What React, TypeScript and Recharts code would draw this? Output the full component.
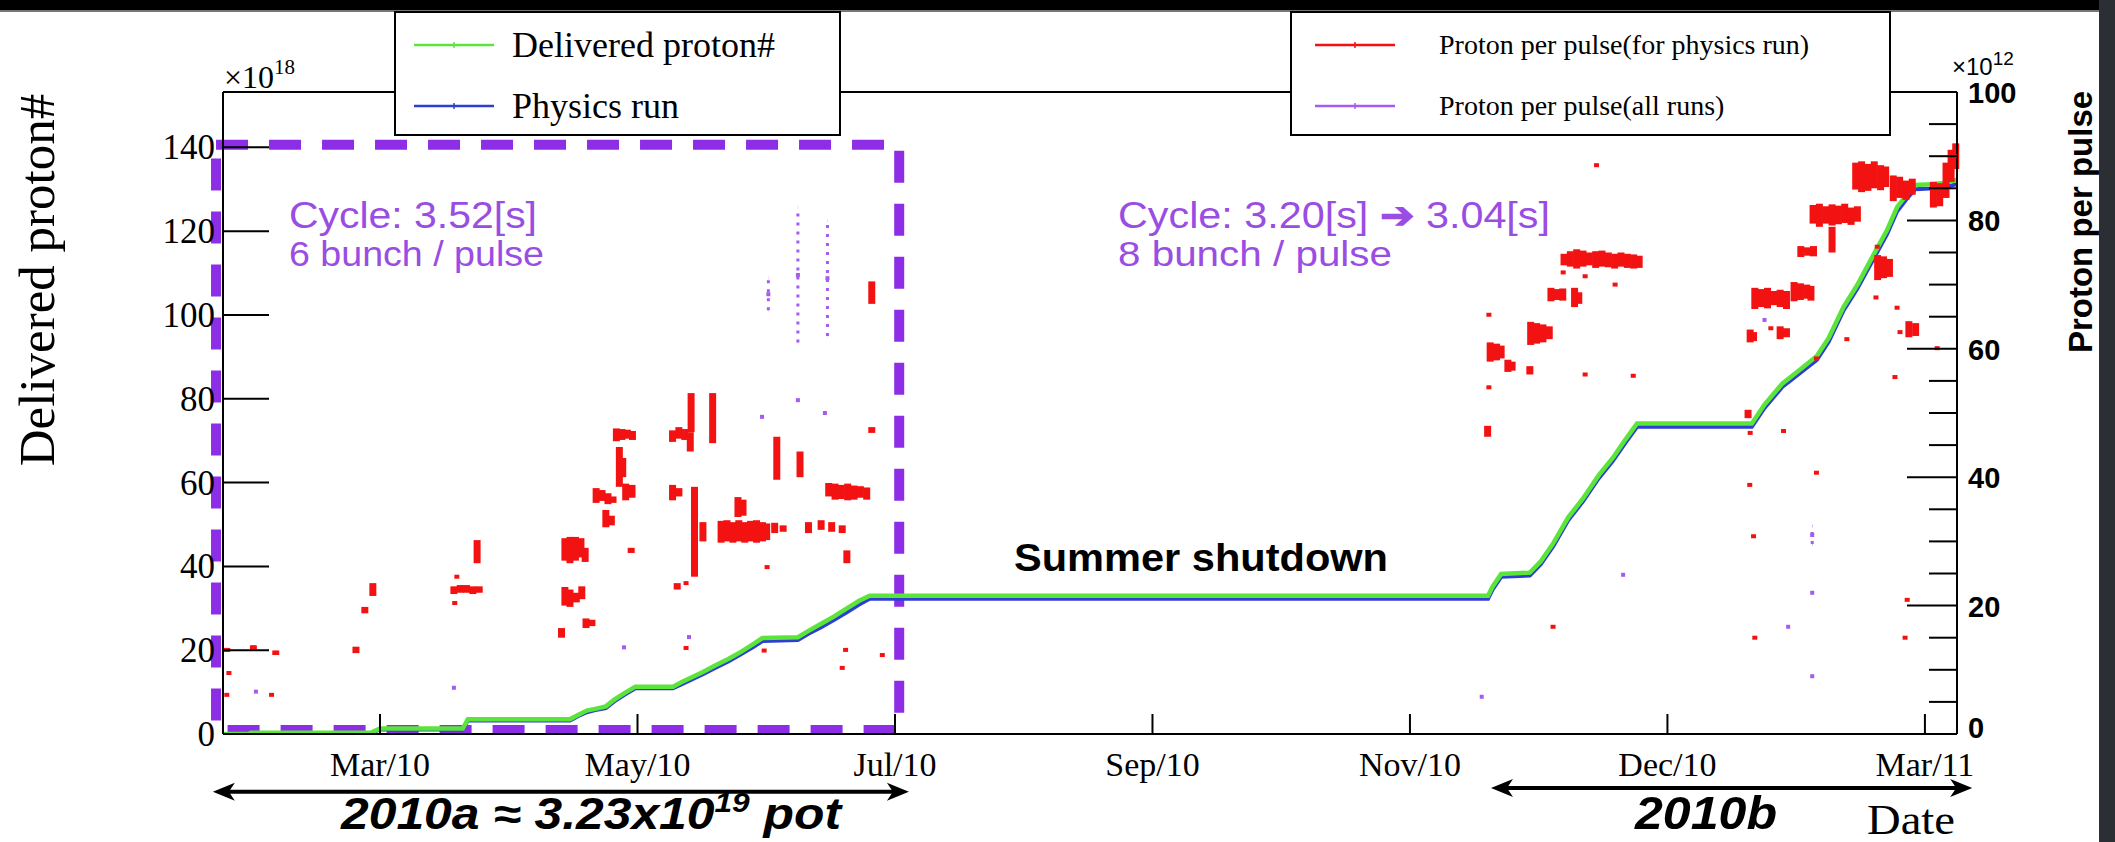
import React from 'react';
import {
  ComposedChart,
  Line,
  Scatter,
  XAxis,
  YAxis,
  ErrorBar,
  ReferenceArea,
  ReferenceLine,
} from 'recharts';

// Canvas size
const W = 2115;
const H = 842;

// x values are day numbers counted from 1 Jan 2010
const dayDomain: [number, number] = [21.8, 432.6];
const dateTicks = [59, 120, 181, 242, 303, 364, 425];
const dateLabels = ['Mar/10', 'May/10', 'Jul/10', 'Sep/10', 'Nov/10', 'Dec/10', 'Mar/11'];

// Left axis: delivered protons (x10^18)
const potTicks = [0, 20, 40, 60, 80, 100, 120, 140];
const potDomain: [number, number] = [0, 153.2];

// Right axis: protons per pulse (x10^12), labelled every 20, minor ticks every 5
const pulseTicks = [0, 5, 10, 15, 20, 25, 30, 35, 40, 45, 50, 55, 60, 65, 70, 75, 80, 85, 90, 95, 100];
const pulseDomain: [number, number] = [0, 100];

// Cumulative delivered protons [day, x10^18]
const deliveredPot: [number, number][] = [
  [21.8, 0], [27.8, 0], [28.4, 0.3], [56.8, 0.3], [59, 1.3], [78.6, 1.3], [79.8, 3.5],
  [104, 3.5], [106, 4.6], [108, 5.6], [110, 6], [112.5, 6.6], [114.5, 8.2], [117, 9.8],
  [119.5, 11.3], [128.4, 11.3], [130.5, 12.4], [133, 13.6], [135.5, 14.8], [138.5, 16.4],
  [141.5, 17.9], [144.5, 19.6], [147.5, 21.5], [149.6, 22.9], [158, 23.1], [160.5, 24.6],
  [163.5, 26.3], [166.5, 28], [169.5, 29.9], [172.5, 31.8], [175, 33.0], [321.5, 33.0],
  [322.6, 35.2], [324.6, 38.2], [331.4, 38.5], [334, 41.2], [337, 45.6], [340.5, 51.7],
  [344, 56.2], [347.7, 61.7], [351, 65.8], [354, 70.2], [356.8, 74.1], [384, 74.1],
  [387, 78.6], [391.2, 83.6], [395, 86.6], [399.4, 90.2], [402.2, 94.5], [405.7, 101.9],
  [409, 107.2], [413, 114.7], [416, 120.2], [418.4, 125.7], [420.6, 128.6], [422.7, 131],
  [426.2, 131.2], [429.5, 131.5], [432.6, 132.2],
];

// Cumulative protons for physics runs [day, x10^18]
const physicsPot: [number, number][] = [
  [21.8, 0], [27.8, 0], [28.4, 0.2], [56.8, 0.2], [59, 1.1], [78.6, 1.1], [79.8, 3.2],
  [104, 3.2], [106, 4.3], [108, 5.2], [110, 5.7], [112.5, 6.2], [114.5, 7.8], [117, 9.4],
  [119.5, 10.9], [128.4, 10.9], [130.5, 11.9], [133, 13.1], [135.5, 14.3], [138.5, 15.8],
  [141.5, 17.3], [144.5, 19], [147.5, 20.8], [149.6, 22.2], [158, 22.4], [160.5, 23.9],
  [163.5, 25.5], [166.5, 27.2], [169.5, 29], [172.5, 30.9], [175, 32.3], [321.5, 32.3],
  [322.6, 34.5], [324.6, 37.5], [331.4, 37.8], [334, 40.5], [337, 44.9], [340.5, 51.0],
  [344, 55.5], [347.7, 61.0], [351, 65.1], [354, 69.4], [356.8, 73.3], [384, 73.3],
  [387, 77.8], [391.2, 82.8], [395, 85.8], [399.4, 89.3], [402.2, 93.6], [405.7, 101],
  [409, 106.3], [413, 113.7], [416, 119.2], [418.4, 124.7], [420.6, 127.6], [422.7, 130],
  [426.2, 130.2], [429.5, 130.5], [432.6, 131.2],
];

// Protons per pulse, physics runs: [day, low, high] (x10^12)
const physicsPulses: [number, number, number][] = [
  [22.7, 12.8, 13.4], [29, 13.2, 13.8], [34.3, 12.3, 13.0], [23.2, 9.5, 9.5], [22.7, 6.1, 6.1], [33.3, 6.1, 6.1],
  [53.3, 12.6, 13.6], [55.4, 18.8, 19.8], [57.3, 21.5, 23.5],
  [76.5, 21.8, 23], [78, 22, 23.2], [79.5, 22, 23.2], [81, 21.8, 23], [82.5, 22, 23],
  [82, 26.6, 30.2], [77.2, 24.5, 24.5], [76.7, 20.4, 20.4],
  [102.8, 27, 30.5], [104, 26.6, 30.7], [105.3, 27, 30.7], [106.6, 27.5, 30.5], [107.6, 26.8, 29],
  [102.8, 20, 22.9], [104, 19.8, 22.5], [105.5, 20.5, 22], [106.8, 21, 23],
  [102, 15, 16.5], [107.8, 16.5, 18], [109.2, 16.8, 17.8],
  [110.2, 36, 38.3], [111.6, 36.3, 38], [113, 35.8, 37.5], [114.2, 36, 37],
  [112.5, 32.2, 34.9], [113.8, 32.5, 34],
  [115, 45.6, 47.6], [116.3, 45.8, 47.5], [117.6, 46, 47.4], [118.8, 45.8, 47.2],
  [115.7, 38.5, 44.7], [116.5, 40, 43], [117.2, 36.4, 39], [118.7, 36.8, 38.8], [118.5, 28.2, 29],
  [128.3, 45.5, 47.3], [129.8, 46, 47.8], [131.2, 45.8, 47.5], [132.5, 44, 47],
  [132.7, 47, 53.1], [137.8, 45.3, 53.1],
  [128.3, 36.4, 38.8], [129.8, 37, 38.3],
  [133.5, 24.5, 38.5], [135.5, 30, 33], [129.4, 22.5, 23.5],
  [139.8, 29.8, 33.2], [141.2, 30, 33.3], [142.6, 29.8, 33], [144, 30, 33.3], [145.4, 29.8, 33],
  [146.8, 30, 33.2], [148.2, 29.8, 33.3], [149.6, 30, 33], [150.6, 30.2, 32.8],
  [143.8, 33.8, 36.9], [145, 34, 36.5],
  [152.5, 31.3, 32.9], [154.5, 31.5, 32.5], [153, 39.6, 46.3], [158.5, 40, 44],
  [165.3, 37, 39.1], [166.8, 36.5, 39], [168.3, 36.6, 38.8], [169.8, 36.4, 39], [171.3, 36.5, 38.7],
  [172.8, 36.8, 38.6], [174.3, 36.5, 38.4],
  [160.5, 31.3, 33], [163.5, 31.8, 33.3], [166, 31.5, 33], [168.5, 31.3, 32.5],
  [175.5, 46.9, 47.8], [169.6, 26.6, 28.6],
  [168.5, 10.3, 10.3], [169.3, 13.1, 13.1], [178, 12.3, 12.3], [150, 13, 13], [131.5, 13.4, 13.4],
  [150.7, 26, 26], [131.5, 23.5, 23.5], [175.5, 67, 70.5],
  [321.4, 46.3, 48],
  [322, 58, 61], [323.5, 58.2, 60.8], [324.6, 58.5, 60.5],
  [326.2, 56.4, 58.3], [327.2, 56.6, 58], [331.4, 56, 57.3],
  [331.6, 60.6, 64.2], [333, 60.8, 64], [334.5, 61, 63.8], [336, 61.5, 63.5],
  [336.4, 67.4, 69.5], [337.8, 67.6, 69.3], [339.2, 67.5, 69.4], [342, 66.5, 69.5], [343, 67, 68.8],
  [339.5, 73, 74.8], [341, 72.8, 75.2], [342.5, 72.5, 75.5], [344, 72.8, 75.3], [345.5, 73, 75],
  [347, 72.6, 75.2], [348.5, 72.8, 75.3], [350, 72.7, 75], [351.5, 72.5, 74.8], [353, 72.8, 75],
  [354.5, 72.6, 74.8], [356, 72.5, 74.7], [357.3, 72.6, 74.5],
  [321.7, 65.3, 65.3], [321.7, 54, 54], [344.5, 56, 56], [355.9, 55.8, 55.8], [351.6, 70, 70],
  [344.5, 71.3, 71.3], [339.3, 71.9, 71.9], [347.2, 88.6, 88.6], [336.9, 16.7, 16.7],
  [384.7, 66.2, 69.5], [386.2, 66.5, 69.3], [387.7, 66.3, 69.5], [389.2, 66.8, 69], [390.7, 66.5, 69.2], [392.2, 66.2, 69],
  [394, 67.4, 70.4], [395.5, 67.6, 70.2], [397, 67.8, 70], [398, 67.5, 69.8],
  [383.6, 61, 63], [384.4, 61.2, 62.6], [390.7, 61.5, 63.5], [392.2, 61.8, 63.2],
  [395.6, 74.3, 76], [397.2, 74.5, 75.8], [398.6, 74.4, 76],
  [398.5, 79.5, 82.4], [400, 79, 82.6], [401.5, 79.5, 82.2], [403, 79.2, 82.5], [404.5, 79.4, 82.3],
  [406, 79.6, 82.6], [407.5, 79.3, 82], [409, 79.8, 82.2], [403, 75, 79],
  [408.6, 84.8, 89], [410, 84.4, 89.2], [411.5, 84.6, 88.8], [413, 85, 89.2], [414.5, 84.7, 88.6], [415.7, 85.2, 88.4],
  [413.8, 70.7, 74.6], [415.2, 71, 74.4], [416.6, 71.2, 74],
  [417.5, 83, 87], [419, 83.5, 86.8], [420.5, 83.2, 86.2], [422, 84, 86.5],
  [421.2, 61.8, 64.3], [422.8, 62, 64],
  [427, 82, 86], [428.5, 82.2, 85.8], [430, 83.5, 89], [431.2, 86, 91], [432.3, 88, 92],
  [383.1, 49.2, 50.5], [383.6, 46.9, 46.9], [391.5, 47.2, 47.2], [399.3, 40.7, 40.7], [383.5, 38.8, 38.8],
  [384.4, 30.8, 30.8], [384.7, 15, 15], [399.3, 58.5, 58.5], [406.5, 61.5, 61.5], [413.4, 68, 68],
  [418.4, 66.4, 66.4], [419.1, 62.6, 62.6], [417.9, 55.6, 55.6], [388.5, 63.2, 63.2], [420.8, 20.9, 20.9],
  [420.3, 15, 15], [413.7, 75.9, 75.9], [396.6, 75.4, 75.4], [427.9, 60.1, 60.1],
];

// Protons per pulse, all runs (only points not covered by physics runs): [day, low, high]
const allRunPulses: [number, number, number][] = [
  [29.6, 6.6, 6.6], [76.5, 7.2, 7.2], [116.8, 13.5, 13.5], [132.2, 15.1, 15.1], [149.5, 49.4, 49.4],
  [158, 52, 52], [164.4, 50, 50], [158, 61, 82], [165, 62, 80], [151, 66, 71],
  [320, 5.8, 5.8], [353.5, 24.8, 24.8], [398.3, 9, 9], [398.3, 22, 22], [398.3, 29.6, 32.4],
  [392.6, 16.7, 16.7], [387, 64.5, 64.5],
];

// Run periods drawn as arrows under the date axis: [start day, end day]
const run2010a: [number, number] = [19.4, 184.3];
const run2010b: [number, number] = [322.2, 436.2];

const SERIF = '"Liberation Serif", "Times New Roman", serif';
const SANS = '"Liberation Sans", Arial, Helvetica, sans-serif';

const GREEN = '#5be53a';
const BLUE = '#2c3fd0';
const RED = '#f31212';
const VIOLET = '#a45cf0';
const PURPLE_BOX = '#8d2ee6';
const PURPLE_TEXT = '#9a4de3';

const toLine = (rows: [number, number][]) => rows.map(([day, pot]) => ({ day, pot }));
const toPulses = (rows: [number, number, number][]) =>
  rows.map(([day, lo, hi]) => ({ day, ppp: (lo + hi) / 2, spread: (hi - lo) / 2 }));

const deliveredData = toLine(deliveredPot);
const physicsData = toLine(physicsPot);
const physicsPulseData = toPulses(physicsPulses);
const allRunPulseData = toPulses(allRunPulses);

const LeftTick = (props: any) => {
  const { x, y, payload } = props;
  return (
    <g>
      {payload.value > 0 && <line x1={x} y1={y} x2={x + 46} y2={y} stroke="#000" strokeWidth={2} />}
      <text x={x - 8} y={y + 12} textAnchor="end" fontFamily={SERIF} fontSize={35} fill="#000">
        {payload.value}
      </text>
    </g>
  );
};

const RightTick = (props: any) => {
  const { x, y, payload } = props;
  const v = payload.value as number;
  const major = v % 20 === 0;
  return (
    <g>
      {v > 0 && <line x1={x - (major ? 50 : 28)} y1={y} x2={x} y2={y} stroke="#000" strokeWidth={2} />}
      {major && (
        <text x={x + 11} y={v === 0 ? y + 4 : y + 11} fontFamily={SANS} fontWeight="bold" fontSize={29} fill="#000">
          {v}
        </text>
      )}
    </g>
  );
};

const DateTick = (props: any) => {
  const { x, y, payload } = props;
  const i = dateTicks.indexOf(payload.value);
  return (
    <g>
      <line x1={x} y1={y} x2={x} y2={y - 20} stroke="#000" strokeWidth={2} />
      <text x={x} y={y + 42} textAnchor="middle" fontFamily={SERIF} fontSize={34} fill="#000">
        {i >= 0 ? dateLabels[i] : ''}
      </text>
    </g>
  );
};

const PulseMark = (color: string, w: number, h: number) => (props: any) => {
  const { cx, cy } = props;
  if (cx == null || cy == null) return <g />;
  return <rect x={cx - w / 2} y={cy - h / 2} width={w} height={h} fill={color} />;
};

const DoubleArrow = (props: any) => {
  const { x1, y1, x2, y2 } = props;
  const head = 22;
  const half = 9;
  return (
    <g>
      <line x1={x1 + 8} y1={y1} x2={x2 - 8} y2={y2} stroke="#000" strokeWidth={4} />
      <polygon points={`${x1},${y1} ${x1 + head},${y1 - half} ${x1 + head - 6},${y1} ${x1 + head},${y1 + half}`} fill="#000" />
      <polygon points={`${x2},${y2} ${x2 - head},${y2 - half} ${x2 - head + 6},${y2} ${x2 - head},${y2 + half}`} fill="#000" />
    </g>
  );
};

const LegendLine = ({ x, y, color }: { x: number; y: number; color: string }) => (
  <g>
    <line x1={x} y1={y} x2={x + 80} y2={y} stroke={color} strokeWidth={2.5} />
    <line x1={x + 40} y1={y - 3} x2={x + 40} y2={y + 3} stroke={color} strokeWidth={1.5} />
  </g>
);

const AXIS_LINE = { stroke: '#000', strokeWidth: 2 };

export default function App() {
  return (
    <div style={{ position: 'fixed', left: 0, top: 0, width: W, height: H, background: '#fff', overflow: 'hidden' }}>
      <ComposedChart
        width={W}
        height={H}
        margin={{ top: 91, right: 157, bottom: 107, left: 222 }}
      >
        <XAxis
          dataKey="day"
          type="number"
          domain={dayDomain}
          ticks={dateTicks}
          interval={0}
          allowDataOverflow
          height={1}
          tickSize={0}
          tickMargin={0}
          tickLine={false}
          axisLine={AXIS_LINE}
          tick={<DateTick />}
        />
        <XAxis
          xAxisId="frame"
          orientation="top"
          type="number"
          domain={dayDomain}
          allowDataOverflow
          height={1}
          tick={false}
          tickLine={false}
          axisLine={AXIS_LINE}
        />
        <YAxis
          yAxisId="left"
          type="number"
          domain={potDomain}
          ticks={potTicks}
          interval={0}
          allowDataOverflow
          width={1}
          tickSize={0}
          tickMargin={0}
          tickLine={false}
          axisLine={AXIS_LINE}
          tick={<LeftTick />}
        />
        <YAxis
          yAxisId="right"
          orientation="right"
          type="number"
          domain={pulseDomain}
          ticks={pulseTicks}
          interval={0}
          allowDataOverflow
          width={1}
          tickSize={0}
          tickMargin={0}
          tickLine={false}
          axisLine={AXIS_LINE}
          tick={<RightTick />}
        />

        <Scatter
          yAxisId="right"
          name="Proton per pulse(all runs)"
          data={allRunPulseData}
          dataKey="ppp"
          isAnimationActive={false}
          shape={PulseMark(VIOLET, 4, 4)}
        >
          <ErrorBar dataKey="spread" direction="y" width={0} stroke={VIOLET} strokeWidth={3} strokeDasharray="3 6" isAnimationActive={false} />
        </Scatter>

        <Line
          yAxisId="left"
          name="Physics run"
          data={physicsData}
          dataKey="pot"
          type="linear"
          stroke={BLUE}
          strokeWidth={4}
          dot={false}
          isAnimationActive={false}
        />
        <Line
          yAxisId="left"
          name="Delivered proton#"
          data={deliveredData}
          dataKey="pot"
          type="linear"
          stroke={GREEN}
          strokeWidth={4.5}
          dot={false}
          isAnimationActive={false}
        />

        <Scatter
          yAxisId="right"
          name="Proton per pulse(for physics run)"
          data={physicsPulseData}
          dataKey="ppp"
          isAnimationActive={false}
          shape={PulseMark(RED, 5, 4)}
        >
          <ErrorBar dataKey="spread" direction="y" width={0} stroke={RED} strokeWidth={7} isAnimationActive={false} />
        </Scatter>

        <ReferenceLine
          yAxisId="right"
          segment={[{ x: run2010a[0], y: -9 }, { x: run2010a[1], y: -9 }]}
          ifOverflow="visible"
          shape={DoubleArrow}
        />
        <ReferenceLine
          yAxisId="right"
          segment={[{ x: run2010b[0], y: -8.4 }, { x: run2010b[1], y: -8.4 }]}
          ifOverflow="visible"
          shape={DoubleArrow}
        />
        <ReferenceArea
          yAxisId="left"
          x1={20.15}
          x2={182}
          y1={0.95}
          y2={140.6}
          ifOverflow="visible"
          fill="none"
          fillOpacity={0}
          stroke={PURPLE_BOX}
          strokeWidth={10}
          strokeDasharray="32 21"
        />
      </ComposedChart>

      <svg
        width={W}
        height={H}
        style={{ position: 'absolute', left: 0, top: 0, pointerEvents: 'none' }}
      >
        {/* slide edges */}
        <rect x={0} y={0} width={W} height={10} fill="#000" />
        <rect x={0} y={10} width={W} height={2} fill="#777" />
        <rect x={2099} y={0} width={16} height={H} fill="#2b2f34" />

        {/* axis multipliers */}
        <text x={224} y={88} fontFamily={SERIF} fontSize={32} fill="#000">
          ×10<tspan dy={-14} fontSize={21}>18</tspan>
        </text>
        <text x={1952} y={75} fontFamily={SANS} fontSize={24} fill="#000">
          ×10<tspan dy={-10} fontSize={19}>12</tspan>
        </text>

        {/* axis titles */}
        <text transform="translate(54,280) rotate(-90)" textAnchor="middle" fontFamily={SERIF} fontSize={51} fill="#000">
          Delivered proton#
        </text>
        <text transform="translate(2092,222) rotate(-90)" textAnchor="middle" fontFamily={SANS} fontWeight="bold" fontSize={33} fill="#000">
          Proton per pulse
        </text>
        <text x={1955} y={834} textAnchor="end" fontFamily={SERIF} fontSize={42} textLength={88} lengthAdjust="spacingAndGlyphs" fill="#000">
          Date
        </text>

        {/* legends */}
        <rect x={395} y={12} width={445} height={123} fill="#fff" stroke="#000" strokeWidth={2} />
        <LegendLine x={414} y={45} color={GREEN} />
        <text x={512} y={57} fontFamily={SERIF} fontSize={36} fill="#000">Delivered proton#</text>
        <LegendLine x={414} y={106} color={BLUE} />
        <text x={512} y={118} fontFamily={SERIF} fontSize={36} fill="#000">Physics run</text>

        <rect x={1291} y={12} width={599} height={123} fill="#fff" stroke="#000" strokeWidth={2} />
        <LegendLine x={1315} y={45} color={RED} />
        <text x={1439} y={54} fontFamily={SERIF} fontSize={28} fill="#000">Proton per pulse(for physics run)</text>
        <LegendLine x={1315} y={106} color={VIOLET} />
        <text x={1439} y={115} fontFamily={SERIF} fontSize={28} fill="#000">Proton per pulse(all runs)</text>

        {/* run annotations */}
        <text x={289} y={228} fontFamily={SANS} fontSize={37} textLength={248} lengthAdjust="spacingAndGlyphs" fill={PURPLE_TEXT}>Cycle: 3.52[s]</text>
        <text x={289} y={266} fontFamily={SANS} fontSize={35} textLength={255} lengthAdjust="spacingAndGlyphs" fill={PURPLE_TEXT}>6 bunch / pulse</text>
        <text x={1118} y={228} fontFamily={SANS} fontSize={37} textLength={432} lengthAdjust="spacingAndGlyphs" fill={PURPLE_TEXT}>
          Cycle: 3.20[s] <tspan fontWeight="bold">➔</tspan> 3.04[s]
        </text>
        <text x={1118} y={266} fontFamily={SANS} fontSize={35} textLength={274} lengthAdjust="spacingAndGlyphs" fill={PURPLE_TEXT}>8 bunch / pulse</text>

        <text x={1014} y={571} fontFamily={SANS} fontWeight="bold" fontSize={38} textLength={374} lengthAdjust="spacingAndGlyphs" fill="#000">
          Summer shutdown
        </text>
        <text x={341} y={829} fontFamily={SANS} fontWeight="bold" fontStyle="italic" fontSize={44} textLength={500} lengthAdjust="spacingAndGlyphs" fill="#000">
          2010a ≈ 3.23x10<tspan dy={-17} fontSize={28}>19</tspan><tspan dy={17}> pot</tspan>
        </text>
        <text x={1635} y={829} fontFamily={SANS} fontWeight="bold" fontStyle="italic" fontSize={46} textLength={142} lengthAdjust="spacingAndGlyphs" fill="#000">
          2010b
        </text>
      </svg>
    </div>
  );
}
